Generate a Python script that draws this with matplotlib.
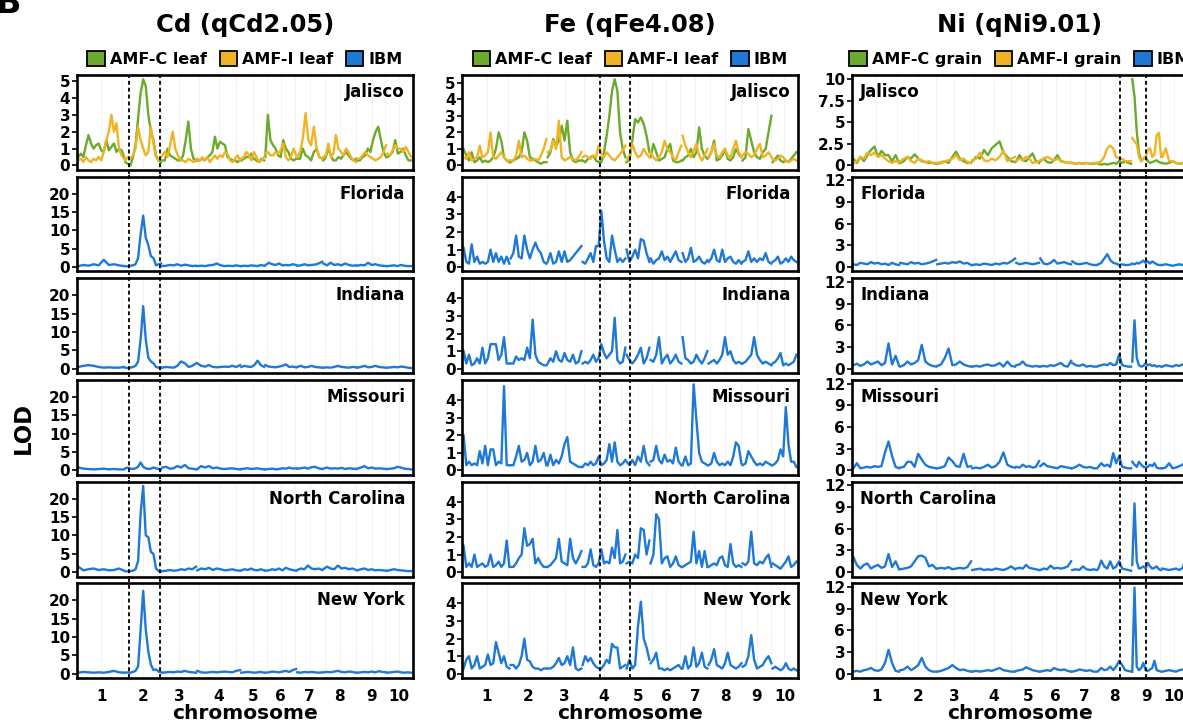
import numpy as np
import matplotlib
matplotlib.use("Agg")
import matplotlib.pyplot as plt
from matplotlib.patches import Patch

plt.rcParams['font.family'] = ['DejaVu Sans']
plt.rcParams['font.weight'] = 'bold'

# ---------------- data ----------------
chromosomes = ['1', '2', '3', '4', '5', '6', '7', '8', '9', '10']
chrom_len = [47, 37, 35, 44, 24, 32, 26, 34, 30, 25]
environments = ['Jalisco', 'Florida', 'Indiana', 'Missouri', 'North Carolina', 'New York']
panel_titles = ['Cd (qCd2.05)', 'Fe (qFe4.08)', 'Ni (qNi9.01)']
legend_labels = [['AMF-C leaf', 'AMF-I leaf', 'IBM'],
                 ['AMF-C leaf', 'AMF-I leaf', 'IBM'],
                 ['AMF-C grain', 'AMF-I grain', 'IBM']]
qtl_intervals = [(51, 82), (137, 167.3), (267.3, 293.6)]
jalisco_ticks = [[0, 1, 2, 3, 4, 5], [0, 1, 2, 3, 4, 5], [0, 2.5, 5, 7.5, 10]]
ibm_ticks = [[0, 5, 10, 15, 20], [0, 1, 2, 3, 4], [0, 3, 6, 9, 12]]

# ---- Cd ----
cd_jal_amfc = [
    [0.5, 0.7, 0.5, 1.2, 1.8, 1.3, 1.0, 1.2, 1.3, 0.9, 0.8, 1.5, 0.9, 1.1, 1.3, 0.8, 1.0, 0.9, 0.5],
    [0.2, 0.1, 0.0, 0.5, 1.2, 2.8, 4.3, 5.1, 4.7, 3.0, 2.0, 1.5, 0.6, 0.3, 0.2],
    [0.3, 0.3, 1.0, 0.6, 0.5, 0.4, 0.3, 0.3, 0.6, 1.5, 2.6, 1.0, 0.4, 0.3],
    [0.3, 0.3, 0.4, 0.3, 0.5, 0.6, 0.8, 1.7, 1.0, 1.4, 1.3, 1.2, 0.5, 0.4, 0.3, 0.3, 0.2, 0.3],
    [0.3, 0.4, 0.5, 0.5, 0.7, 0.4, 0.3, 0.2, 0.4, 0.3],
    [0.5, 3.0, 1.5, 1.2, 1.0, 0.6, 0.5, 1.5, 1.0, 0.8, 0.4, 0.3, 0.4],
    [0.4, 0.4, 1.0, 0.6, 0.5, 0.3, 0.8, 1.0, 0.5, 0.4],
    [0.3, 0.5, 1.0, 0.6, 0.3, 0.3, 0.5, 0.4, 0.6, 0.8, 0.6, 0.4, 0.3, 0.4],
    [0.3, 0.3, 0.5, 0.6, 1.0, 0.8, 1.5, 2.0, 2.3, 1.5, 0.8, 0.5],
    [0.5, 0.6, 0.8, 1.5, 0.7, 0.8, 1.0, 0.6, 0.3, 0.3],
]
cd_jal_amfi = [
    [0.3, 0.4, 0.2, 0.5, 0.3, 0.2, 0.4, 0.3, 0.5, 0.3, 0.8, 1.5, 2.0, 3.0, 2.0, 2.5, 1.0, 0.6, 0.4],
    [0.3, 0.5, 0.4, 0.6, 1.0, 2.3, 1.5, 1.0, 0.6, 0.8, 2.3, 1.3, 0.5, 0.3, 0.5],
    [0.6, 0.8, 0.5, 1.2, 2.0, 1.0, 0.6, 0.3, 0.3, 0.2, 0.4, 0.3, 0.2, 0.3],
    [0.4, 0.3, 0.5, 0.3, 0.5, 0.2, 0.4, 0.6, 0.4, 0.6, 0.5, 0.8, 0.7, 0.3, 0.2, 0.4, 0.6, 0.3],
    [0.4, 0.5, 0.8, 0.6, 0.3, 0.8, 0.5, 0.2, 0.3, 0.5],
    [0.7, 0.8, 0.6, 0.6, 0.8, 0.7, 0.9, 1.3, 0.5, 0.3, 0.5, 1.0, 0.6],
    [0.5, 0.8, 1.6, 3.1, 1.5, 1.2, 2.3, 1.0, 0.5, 0.4],
    [0.5, 0.6, 1.3, 0.5, 0.7, 1.8, 1.0, 0.8, 0.6, 1.0, 0.8, 0.5, 0.3, 0.2],
    [0.4, 0.4, 0.6, 0.8, 0.6, 0.5, 0.4, 0.3, 0.4, 0.5, 0.8, 1.2],
    [0.7, 0.6, 0.9, 1.2, 1.0, 1.0, 0.8, 1.1, 0.8, 0.5],
]
cd_florida = [
    [0.3, 0.6, 0.4, 0.8, 0.5, 2.0, 0.6, 0.8, 0.5, 0.3],
    [0.3, 0.2, 0.4, 0.5, 0.8, 2.5, 9.0, 14.0, 8.0, 6.0, 3.0, 2.5, 0.5, 0.8, 1.0],
    [0.3, 0.4, 0.6, 0.5, 0.8, 0.4, 0.7, 0.5, 0.3, 0.4],
    [0.3, 0.4, 0.3, 0.5, 0.6, 1.0, 0.5, 0.3, 0.4, 0.3, 0.5, 0.3],
    [0.3, 0.4, 0.3, 0.5, 0.4, 0.3, 0.6, 0.4],
    [0.5, 1.2, 0.8, 0.6, 1.0, 0.5, 0.6, 0.5, 0.8, 0.6],
    [0.4, 0.5, 0.8, 0.5, 0.6, 0.7, 1.0, 1.5],
    [1.0, 0.5, 1.2, 0.6, 0.8, 0.5, 1.0, 0.6, 0.4, 0.5],
    [0.4, 0.6, 0.5, 1.2, 0.6, 0.8, 0.5, 0.4, 0.3],
    [0.3, 0.4, 0.5, 0.3, 0.6, 0.4, 0.3, 0.3],
]
cd_indiana = [
    [0.5, 0.8, 1.0, 0.8, 0.5, 0.3, 0.4, 0.3, 0.3, 0.5],
    [0.3, 0.2, 0.3, 0.5, 0.8, 2.0, 8.0, 17.0, 8.0, 3.0, 2.0, 1.5, 0.5, 0.3, 0.3],
    [0.3, 0.5, 0.4, 0.3, 0.8, 2.0, 1.5, 0.5, 0.8, 1.5],
    [1.5, 0.8, 0.6, 1.0, 0.5, 0.4, 0.5, 0.6, 0.5, 0.8, 0.5, 1.0],
    [0.5, 0.8, 0.6, 0.5, 1.0, 2.2, 1.0, 0.5],
    [1.0, 0.6, 0.5, 0.4, 0.6, 0.8, 1.2, 0.5, 0.6, 0.4],
    [0.5, 0.8, 0.4, 0.5, 0.8, 0.5, 0.4, 0.3],
    [0.3, 0.4, 0.3, 0.5, 0.8, 0.5, 0.4, 0.3, 0.5, 0.4],
    [0.3, 0.5, 0.8, 0.4, 0.5, 0.8, 0.5, 0.4, 0.3],
    [0.3, 0.4, 0.5, 0.4, 0.6, 0.5, 0.3, 0.2],
]
cd_missouri = [
    [0.8, 0.5, 0.4, 0.3, 0.4, 0.5, 0.3, 0.4, 0.3, 0.3],
    [0.6, 0.8, 0.5, 0.4, 0.6, 1.0, 2.2, 1.0, 0.6, 0.4, 0.5, 0.8, 0.6, 0.4, 0.3],
    [0.8, 1.0, 0.5, 0.6, 1.2, 0.8, 1.5, 0.6, 0.5, 0.3],
    [0.4, 1.2, 0.8, 1.2, 0.6, 0.8, 0.5, 0.4, 0.5, 0.6, 0.4, 0.3],
    [0.4, 0.5, 0.6, 0.4, 0.5, 0.6, 0.4, 0.3],
    [0.3, 0.4, 0.5, 0.3, 0.4, 0.6, 0.5, 0.8, 0.5, 0.6],
    [0.5, 0.6, 0.8, 0.5, 0.9, 1.0, 0.6, 0.4],
    [0.5, 0.8, 0.5, 0.6, 0.5, 0.7, 0.4, 0.6, 0.5, 0.4],
    [0.5, 0.8, 1.2, 0.6, 0.8, 0.5, 0.6, 0.5, 0.4],
    [0.4, 0.5, 0.6, 1.0, 0.8, 0.5, 0.4, 0.3],
]
cd_ncarolina = [
    [1.5, 0.5, 0.8, 1.0, 0.6, 0.8, 0.5, 0.6, 1.0, 0.4],
    [0.3, 0.2, 0.3, 0.4, 0.8, 3.0, 16.0, 23.4, 10.0, 9.5, 5.5, 5.0, 1.0, 0.3, 0.2],
    [0.3, 0.4, 0.6, 0.4, 0.5, 0.8, 0.6, 1.0, 0.8, 1.5],
    [0.5, 1.0, 0.8, 1.2, 0.6, 1.0, 0.8, 0.5, 0.6, 0.8, 0.5, 0.4],
    [0.5, 0.8, 0.6, 1.0, 0.6, 0.5, 0.8, 0.5],
    [0.4, 0.5, 0.8, 0.6, 1.0, 0.5, 1.2, 0.8, 0.6, 0.4],
    [0.6, 1.0, 0.8, 1.8, 1.0, 0.8, 1.0, 0.6],
    [0.8, 1.5, 1.0, 0.8, 1.8, 1.0, 1.2, 0.8, 1.0, 0.6],
    [0.5, 0.8, 1.0, 0.6, 0.8, 0.5, 0.6, 0.5, 0.4],
    [0.4, 0.6, 0.8, 0.6, 0.5, 0.4, 0.3, 0.3],
]
cd_newyork = [
    [0.3, 0.5, 0.4, 0.3, 0.4, 0.3, 0.5, 0.8, 0.4, 0.3],
    [0.3, 0.4, 0.3, 0.5, 0.8, 2.0, 12.0, 22.5, 12.0, 6.0, 2.5, 1.0, 1.2, 0.6, 0.4],
    [0.3, 0.4, 0.5, 0.4, 0.6, 0.5, 0.8, 0.5, 0.4, 0.3],
    [0.8, 0.4, 0.3, 0.4, 0.5, 0.4, 0.5, 0.6, 0.5, 0.4, 0.8, 1.0],
    [0.3, 0.4, 0.5, 0.4, 0.3, 0.4, 0.5, 0.3],
    [0.3, 0.4, 0.6, 0.5, 0.4, 0.6, 0.8, 0.5, 1.0, 1.3],
    [0.4, 0.3, 0.5, 0.4, 0.5, 0.4, 0.3, 0.4],
    [0.4, 0.5, 0.4, 0.6, 0.8, 0.5, 0.4, 0.6, 0.5, 0.3],
    [0.3, 0.4, 0.5, 0.4, 0.6, 0.4, 0.7, 0.5, 0.4],
    [0.3, 0.4, 0.5, 0.6, 0.4, 0.3, 0.4, 0.3],
]

# ---- Fe ----
fe_jal_amfc = [
    [1.0, 0.6, 0.3, 0.8, 0.2, 0.3, 0.5, 0.2, 0.3, 0.2, 0.3, 0.5, 1.0, 2.0, 1.5, 0.5, 0.3, 0.2],
    [0.2, 0.3, 0.4, 0.5, 0.8, 2.0, 1.5, 0.5, 0.4, 0.3, 0.2, 0.1, 0.2, 0.2],
    [0.5, 0.8, 1.6, 1.2, 1.5, 2.4, 1.5, 2.7, 0.8, 0.3, 0.2, 0.3, 0.3],
    [0.3, 0.2, 0.4, 0.5, 0.6, 0.3, 0.2, 0.2, 0.8, 1.8, 3.0, 4.5, 5.2, 4.5, 2.0, 1.0, 0.5],
    [0.2, 0.3, 1.5, 2.8, 2.6, 2.9, 2.5, 1.8, 0.8],
    [0.5, 1.3, 0.8, 0.3, 0.4, 0.5, 1.0, 1.3, 0.3, 0.2, 0.2, 0.3],
    [0.3, 0.5, 0.6, 1.0, 0.5, 0.8, 2.3, 1.0, 0.6, 0.4],
    [0.5, 0.8, 1.5, 0.3, 0.4, 0.6, 1.0, 0.4, 0.3, 0.5, 1.0, 0.7, 0.5],
    [0.3, 0.5, 2.2, 1.5, 0.8, 0.5, 0.4, 0.8, 1.0, 2.0, 3.0],
    [0.2, 0.4, 0.6, 0.3, 0.2, 0.3, 0.2, 0.4, 0.6, 0.8],
]
fe_jal_amfi = [
    [0.5, 0.4, 0.8, 0.3, 0.4, 0.5, 1.2, 0.5, 0.6, 0.8, 2.0, 0.5, 0.4, 0.6, 0.8, 0.5, 0.3, 0.3],
    [0.3, 0.3, 0.6, 1.5, 0.5, 0.6, 0.4, 0.3, 0.3, 0.4, 0.3, 0.6, 1.0, 1.6],
    [0.8, 0.9, 1.5, 1.0, 2.7, 0.5, 0.3, 0.4, 0.5, 0.4, 0.3, 0.5, 0.8],
    [0.5, 0.6, 0.5, 0.4, 0.6, 0.5, 1.2, 0.7, 0.5, 0.8, 0.6, 0.4, 0.3, 0.5, 0.7, 0.9, 1.2],
    [0.3, 0.6, 1.3, 0.8, 0.5, 0.6, 1.0, 0.7, 0.5],
    [0.8, 0.5, 0.3, 0.5, 0.8, 1.5, 1.0, 0.8, 0.5, 0.3, 0.8, 1.2],
    [1.8, 1.2, 0.8, 0.5, 0.9, 1.3, 0.6, 0.3, 0.6, 1.0],
    [0.5, 0.8, 1.3, 0.6, 0.5, 0.8, 1.0, 0.6, 0.5, 1.0, 1.5, 0.8, 0.5],
    [0.6, 0.8, 0.7, 0.5, 0.6, 1.0, 1.3, 0.5, 0.6, 0.8, 0.5],
    [0.4, 0.3, 0.4, 0.6, 0.5, 0.3, 0.2, 0.3, 0.4, 0.3],
]
fe_florida = [
    [1.1, 0.3, 0.2, 1.3, 0.3, 0.6, 0.2, 0.3, 0.2, 0.3, 1.0, 0.3, 0.8, 0.3, 0.6, 0.2, 0.6, 0.2],
    [0.5, 0.8, 1.8, 0.6, 0.5, 1.8, 1.0, 0.5, 1.0, 1.4, 1.0, 0.8, 0.3, 0.2],
    [0.3, 0.8, 0.2, 0.3, 0.9, 0.3, 0.9, 0.3, 0.4, 0.6, 0.8, 1.0, 1.2],
    [0.3, 0.2, 0.5, 0.8, 0.3, 1.2, 1.2, 3.2, 1.5, 0.5, 0.3, 1.8, 1.0, 0.3, 0.5, 0.3, 0.5],
    [1.0, 0.3, 0.6, 1.0, 0.5, 1.6, 1.5, 0.8, 0.3],
    [0.5, 0.2, 0.4, 0.5, 0.9, 0.4, 0.6, 0.3, 0.6, 0.9, 0.4, 0.3],
    [0.8, 0.3, 0.5, 1.1, 0.3, 0.4, 0.6, 0.3, 0.2, 0.4],
    [0.3, 0.5, 1.0, 0.4, 0.3, 1.0, 0.3, 0.5, 0.6, 0.3, 0.2, 0.4, 0.2],
    [0.3, 0.4, 0.9, 0.3, 0.5, 0.3, 0.5, 0.4, 0.8, 0.3, 0.2],
    [0.3, 0.4, 0.6, 0.2, 0.3, 0.5, 0.3, 0.6, 0.4, 0.3],
]
fe_indiana = [
    [1.0, 0.3, 0.8, 0.2, 0.3, 0.6, 0.3, 1.2, 0.3, 0.6, 1.4, 1.4, 1.4, 0.5, 0.8, 1.8, 0.3, 0.3],
    [0.3, 0.3, 0.7, 0.5, 0.6, 0.5, 1.2, 0.6, 2.8, 0.8, 0.4, 0.3, 0.2, 0.2],
    [0.3, 0.6, 0.4, 1.0, 0.5, 0.4, 0.9, 0.5, 0.4, 0.8, 0.3, 0.4, 1.0],
    [0.3, 0.4, 0.3, 0.5, 0.8, 0.4, 0.6, 1.4, 0.9, 0.6, 0.8, 1.0, 2.9, 0.5, 0.3, 0.4, 1.2],
    [0.8, 0.5, 0.3, 0.5, 0.8, 1.2, 0.3, 0.6, 1.2],
    [0.5, 0.4, 0.8, 1.8, 0.3, 0.6, 0.8, 0.3, 0.5, 0.8, 0.4, 0.3],
    [1.8, 0.6, 0.5, 0.3, 0.4, 0.8, 0.5, 0.3, 0.6, 1.0],
    [0.3, 0.4, 0.5, 0.3, 0.5, 0.8, 1.8, 0.8, 1.0, 0.5, 0.3, 0.4, 0.3],
    [0.3, 0.4, 0.6, 0.8, 1.8, 0.8, 0.5, 0.3, 0.4, 0.3, 0.2],
    [0.3, 0.4, 0.6, 0.9, 0.2, 0.3, 0.2, 0.3, 0.4, 0.8],
]
fe_missouri = [
    [2.0, 0.3, 0.5, 0.3, 0.4, 0.3, 1.1, 0.4, 1.4, 0.3, 1.2, 1.2, 0.3, 0.5, 0.4, 4.8, 0.3, 0.3],
    [0.3, 0.3, 0.8, 1.4, 0.5, 0.6, 1.0, 0.3, 0.5, 1.4, 0.5, 0.6, 1.0, 0.3],
    [0.3, 0.9, 0.3, 0.6, 0.4, 0.8, 1.5, 1.9, 0.5, 0.4, 0.3, 0.2, 0.2],
    [0.2, 0.4, 0.3, 0.5, 0.3, 0.4, 0.8, 0.3, 0.4, 0.6, 1.5, 0.5, 1.6, 0.5, 0.3, 0.4, 0.6],
    [0.5, 0.3, 0.6, 0.3, 0.8, 0.5, 1.4, 0.5, 0.3],
    [0.5, 0.6, 1.4, 0.6, 0.4, 0.9, 0.5, 0.6, 0.4, 1.3, 0.5, 0.3],
    [0.3, 0.8, 0.3, 0.4, 4.9, 2.9, 1.0, 0.5, 0.4, 0.3],
    [0.3, 0.4, 1.0, 0.5, 0.3, 0.4, 0.3, 0.5, 0.3, 0.8, 1.6, 1.4, 0.4],
    [0.3, 0.4, 1.1, 0.8, 0.5, 0.3, 0.4, 0.3, 0.5, 0.4, 0.3],
    [0.3, 0.4, 0.6, 1.2, 0.8, 3.6, 1.5, 0.5, 0.5, 0.2],
]
fe_ncarolina = [
    [1.5, 0.3, 0.5, 0.3, 1.0, 0.3, 0.4, 0.5, 0.3, 0.4, 1.0, 0.3, 0.4, 0.6, 0.3, 0.5, 1.8, 0.3],
    [0.3, 0.3, 0.5, 0.8, 1.0, 2.5, 1.5, 1.6, 1.9, 0.5, 0.8, 0.5, 0.3, 0.3],
    [0.3, 0.4, 0.6, 0.8, 1.9, 0.6, 0.5, 0.4, 1.9, 0.8, 0.5, 0.8, 1.2],
    [0.3, 0.3, 0.5, 1.3, 0.4, 0.3, 0.5, 1.3, 0.5, 0.6, 0.5, 1.4, 0.8, 2.4, 0.5, 0.6, 1.0],
    [0.5, 0.6, 0.5, 1.0, 0.8, 2.5, 2.4, 1.0, 1.8],
    [0.5, 1.0, 3.3, 3.0, 0.5, 0.8, 0.9, 0.3, 0.5, 0.9, 0.4, 0.3],
    [0.3, 0.4, 0.5, 0.6, 2.3, 0.5, 1.2, 0.3, 1.2, 0.3],
    [0.3, 0.4, 0.5, 0.4, 0.8, 0.9, 0.4, 0.3, 1.6, 0.5, 0.3, 0.4, 0.3],
    [0.5, 0.4, 0.6, 2.3, 0.5, 0.4, 0.6, 0.5, 0.8, 1.0, 0.3],
    [0.5, 0.4, 0.3, 0.2, 0.4, 0.6, 0.9, 0.3, 0.4, 0.6],
]
fe_newyork = [
    [0.3, 0.8, 1.0, 0.3, 0.5, 1.0, 0.3, 0.4, 0.5, 1.1, 0.5, 0.6, 1.8, 1.2, 0.6, 1.0, 0.4, 0.3],
    [0.5, 0.5, 0.3, 0.5, 1.0, 2.0, 0.8, 0.7, 0.4, 0.3, 0.3, 0.2, 0.3, 0.3],
    [0.3, 0.3, 0.4, 0.6, 0.9, 0.5, 0.6, 1.0, 0.5, 1.5, 0.3, 0.2, 0.3],
    [0.5, 1.0, 0.7, 0.9, 0.6, 0.4, 0.3, 0.3, 0.5, 0.8, 0.6, 1.7, 1.5, 1.5, 0.3, 0.4, 0.5],
    [0.3, 0.8, 0.3, 0.5, 2.7, 4.1, 2.0, 1.5, 0.8],
    [0.6, 0.8, 1.2, 0.3, 0.3, 0.2, 0.3, 0.2, 0.3, 0.4, 0.5, 0.3],
    [0.3, 1.0, 0.3, 0.5, 1.5, 0.4, 0.6, 1.2, 0.4, 0.3],
    [0.5, 0.8, 1.4, 0.5, 0.4, 0.3, 0.6, 1.2, 0.5, 0.4, 0.3, 0.4, 0.6],
    [0.4, 0.5, 1.0, 2.2, 0.8, 0.3, 0.4, 0.5, 0.8, 1.0, 0.6],
    [0.3, 0.4, 0.3, 0.2, 0.3, 0.6, 0.3, 0.2, 0.3, 0.2],
]

# ---- Ni ----
ni_jal_amfc = [
    [0.8, 0.3, 1.0, 0.5, 1.2, 1.8, 2.2, 1.0, 1.7, 1.2, 1.2, 0.5, 1.2, 0.3],
    [0.3, 0.5, 1.0, 0.8, 1.3, 0.8, 0.5, 0.4, 0.3, 0.3, 0.2],
    [0.2, 0.3, 0.5, 0.3, 1.0, 1.6, 0.8, 0.5, 0.3, 0.3],
    [0.5, 1.0, 0.8, 1.8, 1.2, 2.0, 2.4, 2.8, 1.5, 1.0, 0.5, 0.4],
    [0.5, 1.2, 0.6, 0.5, 1.0, 1.4, 0.5, 0.3],
    [0.5, 0.8, 0.4, 0.3, 0.6, 1.2, 0.5, 0.4, 0.3, 0.3],
    [0.3, 0.2, 0.3, 0.2, 0.3, 0.2, 0.2, 0.3],
    [0.2, 0.1, 0.2, 0.1, 0.2, 0.3, 0.2, 0.5, 0.3, 0.5, 0.3, 0.2],
    [10.0, 8.0, 4.0, 1.5, 0.5, 0.8, 1.0, 0.5, 0.3, 0.4, 0.5, 0.6, 0.4, 0.3],
    [0.3, 0.2, 0.3, 0.5, 0.3, 0.2, 0.3, 0.2],
]
ni_jal_amfi = [
    [0.2, 0.5, 1.0, 0.8, 1.5, 1.2, 1.5, 1.0, 1.2, 0.8, 0.5, 0.3, 0.5, 0.4],
    [0.5, 0.8, 1.0, 0.5, 0.3, 0.8, 0.6, 0.4, 0.5, 0.3, 0.3],
    [0.3, 0.4, 0.5, 0.6, 0.8, 1.2, 0.6, 0.8, 0.4, 0.3],
    [0.6, 0.8, 1.5, 0.6, 0.5, 0.8, 0.6, 1.0, 1.7, 0.5, 0.8, 1.0],
    [0.5, 0.8, 0.6, 1.0, 0.8, 0.3, 0.4, 0.5],
    [0.6, 0.8, 1.0, 0.8, 0.6, 0.8, 0.5, 0.4, 0.3, 0.3],
    [0.3, 0.2, 0.3, 0.2, 0.3, 0.2, 0.3, 0.3],
    [0.3, 0.5, 1.0, 2.0, 2.3, 2.0, 1.0, 0.8, 0.8, 0.5, 0.5, 0.5],
    [3.2, 2.8, 2.5, 1.0, 0.5, 0.8, 1.0, 1.8, 2.0, 1.0, 1.3, 3.5, 3.8, 1.0],
    [1.0, 2.0, 0.5, 0.5, 0.3, 0.2, 0.3, 0.2],
]
ni_florida = [
    [0.4, 0.3, 0.6, 0.5, 0.4, 0.7, 0.5, 0.6, 0.4, 0.5, 0.3, 0.6, 0.4, 0.3],
    [0.6, 0.5, 0.4, 0.7, 0.5, 0.6, 0.4, 0.5, 0.6, 0.8, 1.0],
    [0.4, 0.5, 0.6, 0.5, 0.7, 0.6, 0.8, 0.5, 0.6, 0.3],
    [0.3, 0.4, 0.3, 0.5, 0.4, 0.3, 0.5, 0.4, 0.6, 0.5, 0.8, 1.2],
    [0.6, 0.4, 0.5, 0.6, 0.5, 0.4, 0.5, 0.6],
    [1.2, 0.5, 0.4, 0.6, 1.0, 0.5, 0.6, 0.7, 0.5, 0.4],
    [0.8, 0.5, 0.4, 0.5, 0.6, 0.4, 0.3, 0.3],
    [0.4, 0.6, 1.2, 1.8, 1.0, 0.6, 0.5, 0.3, 0.4, 0.3, 0.3, 0.4],
    [0.5, 0.4, 0.6, 0.5, 0.7, 0.9, 0.6, 0.8, 0.5, 0.8, 0.6, 0.4, 0.3, 0.3],
    [0.3, 0.4, 0.3, 0.2, 0.3, 0.4, 0.3, 0.5],
]
ni_indiana = [
    [0.5, 0.7, 0.4, 0.6, 1.0, 0.6, 0.8, 1.0, 0.5, 0.8, 3.5, 0.6, 1.8, 0.4],
    [0.3, 0.5, 1.0, 0.6, 0.8, 1.2, 3.3, 1.0, 0.6, 0.4, 0.3],
    [0.4, 0.6, 1.5, 2.8, 0.5, 0.6, 1.0, 0.6, 0.4, 0.3],
    [0.3, 0.4, 0.3, 0.5, 0.6, 0.4, 0.5, 0.8, 0.3, 1.0, 0.4, 0.3],
    [0.5, 0.6, 1.0, 0.5, 0.4, 0.3, 0.4, 0.3],
    [0.3, 0.4, 0.3, 0.5, 0.4, 0.6, 0.8, 0.4, 0.3, 1.1],
    [0.8, 0.5, 0.4, 0.6, 0.3, 0.4, 0.3, 0.3],
    [0.4, 0.5, 0.6, 0.5, 0.8, 0.5, 0.6, 2.0, 0.5, 0.4, 0.3, 0.3],
    [1.0, 6.7, 1.5, 0.5, 0.3, 0.4, 0.8, 0.5, 0.6, 0.4, 0.5, 0.3, 0.4, 0.3],
    [0.3, 0.5, 0.4, 0.3, 0.5, 0.4, 0.6, 0.8],
]
ni_missouri = [
    [0.3, 1.0, 0.3, 0.4, 0.5, 0.4, 0.6, 0.5, 0.6, 2.5, 4.0, 2.0, 0.5, 0.3],
    [0.4, 0.5, 1.2, 1.2, 0.5, 2.3, 1.5, 0.8, 0.5, 0.4, 0.3],
    [0.3, 0.4, 0.6, 1.8, 1.3, 0.6, 0.5, 2.3, 0.5, 0.6],
    [0.3, 0.4, 0.3, 0.5, 0.8, 0.4, 0.6, 1.2, 2.5, 0.8, 0.5, 0.4],
    [0.5, 0.4, 0.8, 0.5, 0.6, 0.4, 0.5, 1.3],
    [0.6, 1.0, 0.6, 0.5, 0.4, 0.3, 0.6, 0.5, 0.4, 0.3],
    [0.3, 0.5, 0.8, 0.5, 0.4, 0.5, 0.3, 0.3],
    [0.5, 1.0, 0.6, 0.8, 0.5, 2.4, 1.0, 2.0, 0.5, 0.4, 0.3, 0.3],
    [1.2, 0.8, 0.5, 1.2, 0.8, 0.5, 0.4, 0.5, 0.8, 0.6, 1.0, 0.4, 0.3, 0.3],
    [0.3, 0.4, 1.0, 0.3, 0.4, 0.6, 0.8, 1.4],
]
ni_ncarolina = [
    [2.1, 1.0, 0.5, 1.0, 1.2, 0.5, 0.8, 1.0, 0.6, 0.8, 2.5, 0.7, 1.5, 0.4],
    [0.4, 0.5, 0.6, 0.8, 1.5, 2.2, 2.3, 2.0, 0.8, 1.0, 0.5],
    [0.5, 0.6, 0.5, 0.7, 0.4, 0.5, 0.6, 0.5, 0.7, 1.5],
    [0.3, 0.4, 0.5, 0.3, 0.4, 0.3, 0.5, 0.4, 0.3, 0.5, 0.8, 0.4],
    [0.5, 0.6, 0.5, 1.0, 0.6, 0.5, 0.4, 0.3],
    [0.3, 0.5, 0.4, 0.9, 0.5, 0.6, 0.5, 0.6, 0.8, 1.5],
    [0.3, 0.4, 0.3, 0.8, 0.4, 0.3, 0.4, 0.3],
    [0.5, 1.6, 0.8, 0.5, 1.5, 0.5, 0.8, 1.5, 0.5, 0.4, 0.3, 0.2],
    [1.0, 9.5, 1.5, 0.5, 0.6, 0.8, 0.5, 1.3, 0.8, 0.5, 0.6, 0.8, 0.4, 0.3],
    [0.5, 0.4, 0.3, 0.4, 0.5, 0.3, 0.6, 2.2],
]
ni_newyork = [
    [0.3, 0.4, 0.3, 0.5, 0.6, 0.8, 0.5, 0.4, 0.6, 1.5, 3.3, 1.5, 0.4, 0.3],
    [0.5, 0.6, 1.0, 0.5, 0.8, 1.2, 2.2, 1.0, 0.5, 0.3, 0.3],
    [0.3, 0.4, 0.6, 0.8, 1.2, 0.8, 0.5, 0.6, 0.4, 0.3],
    [0.3, 0.4, 0.3, 0.4, 0.5, 0.4, 0.6, 0.8, 0.5, 0.4, 0.3, 0.3],
    [0.4, 0.5, 0.6, 0.9, 0.7, 0.5, 0.4, 0.3],
    [0.3, 0.4, 0.5, 0.4, 0.8, 0.6, 0.5, 0.6, 0.4, 0.3],
    [0.3, 0.4, 0.6, 0.5, 0.4, 0.5, 0.3, 0.3],
    [0.4, 0.8, 0.5, 0.6, 1.0, 0.5, 1.0, 1.8, 1.2, 0.5, 0.4, 0.3],
    [0.3, 11.9, 1.0, 0.5, 0.8, 1.5, 0.5, 0.4, 0.6, 0.8, 1.8, 0.5, 0.4, 0.3],
    [0.3, 0.4, 0.5, 0.4, 0.3, 0.5, 0.6, 0.8],
]

columns = [
    {'jal': (cd_jal_amfc, cd_jal_amfi),
     'ibm': [cd_florida, cd_indiana, cd_missouri, cd_ncarolina, cd_newyork]},
    {'jal': (fe_jal_amfc, fe_jal_amfi),
     'ibm': [fe_florida, fe_indiana, fe_missouri, fe_ncarolina, fe_newyork]},
    {'jal': (ni_jal_amfc, ni_jal_amfi),
     'ibm': [ni_florida, ni_indiana, ni_missouri, ni_ncarolina, ni_newyork]},
]

# ---------------- style / layout ----------------
C_AMFC = '#6BAA2C'
C_AMFI = '#F0B323'
C_IBM = '#1E78D6'
W, H = 1183, 727
col_left = [76.7, 462.0, 851.7]
col_w = 336.5
row_top = [75.0, 176.7, 278.3, 380.0, 481.7, 583.3]
row_h = 94.8

bounds = np.concatenate([[0], np.cumsum(chrom_len)])
centers = (bounds[:-1] + bounds[1:]) / 2
minor = (centers[:-1] + centers[1:]) / 2


def draw_trace(ax, trace, color, z=2):
    for i, vals in enumerate(trace):
        x = np.linspace(bounds[i] + 0.6, bounds[i + 1] - 0.6, len(vals))
        ax.plot(x, vals, color=color, lw=1.7, zorder=z, solid_joinstyle='round')


def ymax_of(traces):
    return max(max(max(v) for v in t) for t in traces)


fig = plt.figure(figsize=(W / 100, H / 100), dpi=100)

for c in range(3):
    col = columns[c]
    ibm_max = ymax_of(col['ibm'])
    jal_max = ymax_of(col['jal'])
    for r in range(6):
        ax = fig.add_axes([col_left[c] / W, 1 - (row_top[r] + row_h) / H, col_w / W, row_h / H])
        for xv in list(centers) + list(minor):
            ax.axvline(xv, color='#f1f1f1', lw=0.6, zorder=0)
        if r == 0:
            draw_trace(ax, col['jal'][0], C_AMFC)
            draw_trace(ax, col['jal'][1], C_AMFI)
            ax.set_ylim(-0.05 * jal_max, 1.05 * jal_max)
            ticks = jalisco_ticks[c]
        else:
            draw_trace(ax, col['ibm'][r - 1], C_IBM)
            ax.set_ylim(-0.05 * ibm_max, 1.05 * ibm_max)
            ticks = ibm_ticks[c]
        ax.set_xlim(-1.0, bounds[-1] + 1.5)
        ax.set_yticks(ticks)
        ax.set_yticklabels([f'{t:g}' for t in ticks])
        ax.set_xticks(centers)
        if r == 5:
            ax.set_xticklabels(chromosomes)
        else:
            ax.set_xticklabels([])
        ax.tick_params(axis='y', length=3.5, width=1.2, pad=1.2, labelsize=11, colors='black')
        ax.tick_params(axis='x', length=0, pad=7.5, labelsize=11, colors='black')
        for lab in ax.get_xticklabels() + ax.get_yticklabels():
            lab.set_fontweight('bold')
        for sp in ax.spines.values():
            sp.set_linewidth(1.9)
            sp.set_color('black')
        ymin_ext = 0 if r == 5 else -0.04
        ymax_ext = 1 if r == 0 else 1.04
        for q in qtl_intervals[c]:
            ax.axvline(q, ymin=ymin_ext, ymax=ymax_ext, color='black', lw=1.3,
                       linestyle=(0, (2.2, 1.6)), zorder=4, clip_on=False)
        if c == 2:
            ax.text(0.025, 0.915, environments[r], transform=ax.transAxes,
                    ha='left', va='top', fontsize=12, fontweight='bold')
        else:
            ax.text(0.976, 0.915, environments[r], transform=ax.transAxes,
                    ha='right', va='top', fontsize=12, fontweight='bold')
        if r == 5:
            ax.set_xlabel('chromosome', fontsize=14.5, fontweight='bold', labelpad=0)

    cx = (col_left[c] + col_w / 2) / W
    fig.text(cx, 1 - 25 / H, panel_titles[c], ha='center', va='center',
             fontsize=17.5, fontweight='bold')
    handles = [Patch(facecolor=C_AMFC, edgecolor='black', linewidth=1.3),
               Patch(facecolor=C_AMFI, edgecolor='black', linewidth=1.3),
               Patch(facecolor=C_IBM, edgecolor='black', linewidth=1.3)]
    fig.legend(handles, legend_labels[c], loc='center', bbox_to_anchor=(cx, 1 - 59 / H),
               ncol=3, frameon=False, prop={'weight': 'bold', 'size': 11.5},
               handlelength=1.1, handleheight=1.1, handletextpad=0.3,
               columnspacing=0.8, borderpad=0, borderaxespad=0)

fig.text(23 / W, 1 - 428 / H, 'LOD', rotation=90, ha='center', va='center',
         fontsize=16.5, fontweight='bold')
fig.text(-4 / W, 1 - 13 / H, 'B', ha='left', va='baseline', fontsize=24, fontweight='bold')

fig.savefig('out.png', dpi=100)
